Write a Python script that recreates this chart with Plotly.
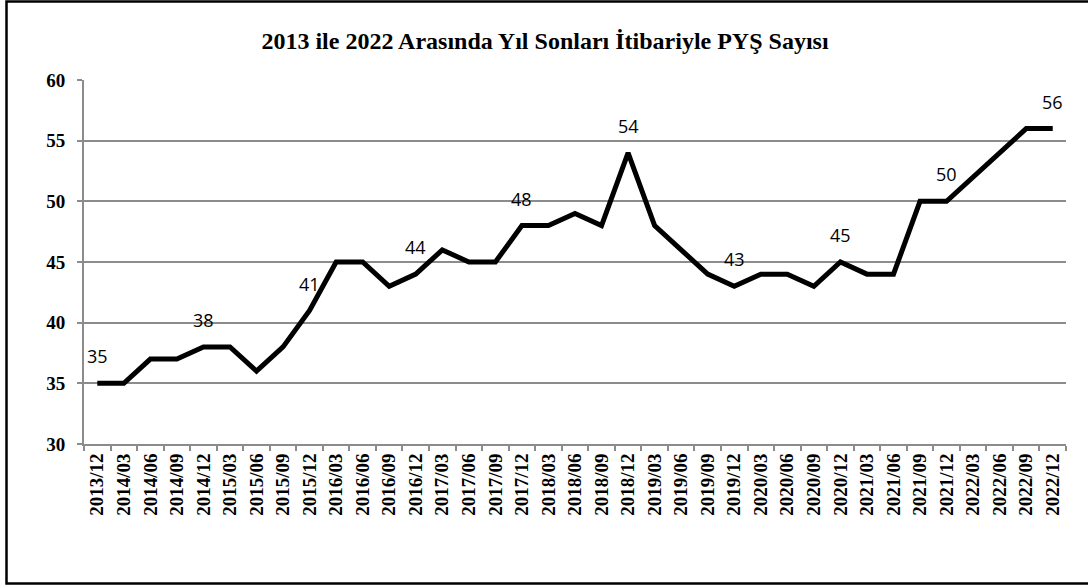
import plotly.graph_objects as go

categories = [
    "2013/12", "2014/03", "2014/06", "2014/09", "2014/12", "2015/03", "2015/06", "2015/09",
    "2015/12", "2016/03", "2016/06", "2016/09", "2016/12", "2017/03", "2017/06", "2017/09",
    "2017/12", "2018/03", "2018/06", "2018/09", "2018/12", "2019/03", "2019/06", "2019/09",
    "2019/12", "2020/03", "2020/06", "2020/09", "2020/12", "2021/03", "2021/06", "2021/09",
    "2021/12", "2022/03", "2022/06", "2022/09", "2022/12",
]
pys_count = [
    35, 35, 37, 37, 38, 38, 36, 38,
    41, 45, 45, 43, 44, 46, 45, 45,
    48, 48, 49, 48, 54, 48, 46, 44,
    43, 44, 44, 43, 45, 44, 44, 50,
    50, 52, 54, 56, 56,
]
labelled_categories = ["2013/12", "2014/12", "2015/12", "2016/12", "2017/12",
                       "2018/12", "2019/12", "2020/12", "2021/12", "2022/12"]
y_ticks = [30, 35, 40, 45, 50, 55, 60]

W, H = 1088, 588
L, R, T, B = 84, 22, 80, 144

fig = go.Figure()
fig.add_trace(go.Scatter(
    x=categories, y=pys_count, mode="lines",
    line=dict(color="black", width=5), hoverinfo="x+y", showlegend=False,
))

for c, v in zip(categories, pys_count):
    if c in labelled_categories:
        fig.add_annotation(x=c, y=v, text=str(v), showarrow=False, yshift=27,
                           font=dict(family="Open Sans", size=18, color="black"))

pw = W - L - R
ph = H - T - B
fig.add_shape(type="rect", xref="paper", yref="paper",
              x0=(6.5 - L) / pw, x1=(1100 - L) / pw,
              y0=(H - B - 583.5) / ph, y1=(H - B - 1.5) / ph,
              line=dict(color="black", width=2.5), fillcolor="rgba(0,0,0,0)", layer="above")

fig.update_layout(
    width=W, height=H,
    margin=dict(l=L, r=R, t=T, b=B),
    paper_bgcolor="white", plot_bgcolor="white",
    title=dict(text="<b>2013 ile 2022 Arasında Yıl Sonları İtibariyle PYŞ Sayısı</b>",
               x=545 / W, xref="container", xanchor="center", y=1 - 41 / H, yanchor="middle",
               font=dict(family="Liberation Serif", size=24, color="black")),
    xaxis=dict(type="category", range=[-0.5, len(categories) - 0.5], automargin=False,
               tickson="boundaries", ticks="outside", ticklen=5, tickcolor="#8c8c8c",
               tickwidth=1.5, showline=True, linecolor="#8c8c8c", linewidth=2,
               showgrid=False, tickangle=-90,
               tickfont=dict(family="Liberation Serif", size=19, color="black"),
               ticktext=[f"<b>{c}</b>" for c in categories], tickvals=categories),
    yaxis=dict(range=[30, 60], tickvals=y_ticks, ticktext=[f"<b>{t}</b>" for t in y_ticks],
               automargin=False, ticklabelstandoff=8,
               ticks="outside", ticklen=5, tickcolor="#8c8c8c", tickwidth=1.5,
               showline=True, linecolor="#8c8c8c", linewidth=2,
               showgrid=True, gridcolor="#8c8c8c", gridwidth=1.5, zeroline=False,
               tickfont=dict(family="Liberation Serif", size=19, color="black")),
)

fig.write_html("out.html", config={"displayModeBar": False},
               post_script="document.body.style.margin='0';")
